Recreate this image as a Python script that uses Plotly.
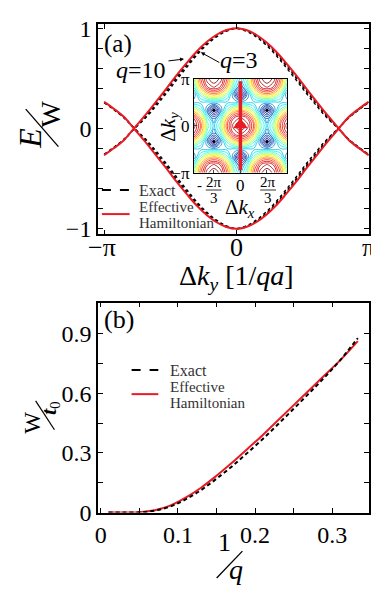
import numpy as np
import plotly.graph_objects as go

W, H = 371, 592
FONT = "Liberation Serif"
RED = "rgb(232,28,36)"


def px(x):
    return x / W


def py(y):
    return 1 - y / H


# ---------------- panel (a): bands along Δk_y (units of π), upper band, half range
DKY_FRAC = [0.0, 0.075, 0.15, 0.225, 0.30, 0.375, 0.45, 0.525, 0.60, 0.675, 0.775, 0.85, 0.925, 1.0]
E_EFFECTIVE = [1.0, 0.982, 0.935, 0.862, 0.768, 0.655, 0.535, 0.405, 0.280, 0.155, 0.0, -0.115, -0.195, -0.265]
E_EXACT_Q10 = [1.0, 0.980, 0.930, 0.855, 0.758, 0.644, 0.522, 0.393, 0.269, 0.146, -0.002, -0.113, -0.193, -0.263]
E_EXACT_Q5 = [0.999, 0.976, 0.924, 0.846, 0.746, 0.629, 0.507, 0.377, 0.255, 0.135, -0.005, -0.110, -0.189, -0.261]
E_EXACT_Q3 = [0.997, 0.970, 0.914, 0.833, 0.730, 0.611, 0.488, 0.358, 0.237, 0.122, -0.007, -0.106, -0.185, -0.257]

# ---------------- panel (b): bandwidth vs 1/q
INV_Q = [0.01, 0.03, 0.05, 0.07, 0.09, 0.11, 0.13, 0.15, 0.17, 0.19, 0.21, 0.23, 0.25, 0.27, 0.29, 0.31, 0.333]
W_EFFECTIVE = [0.0, 0.0, 0.002, 0.012, 0.035, 0.075, 0.125, 0.185, 0.25, 0.32, 0.39, 0.465, 0.54, 0.615, 0.69, 0.765, 0.862]
W_EXACT = [0.0, 0.0, 0.001, 0.010, 0.030, 0.066, 0.113, 0.170, 0.232, 0.300, 0.370, 0.445, 0.522, 0.600, 0.680, 0.765, 0.877]

# ---------------- inset: |E| map, one quadrant (Δk_x = i·π/6, Δk_y = j·π/6)
INSET_KX_FRAC = [0, 1 / 6, 2 / 6, 3 / 6, 4 / 6, 5 / 6, 6 / 6, 7 / 6]
INSET_KY_FRAC = [0, 1 / 6, 2 / 6, 3 / 6, 4 / 6, 5 / 6, 6 / 6]
INSET_Z_QUADRANT = [
    [1.000, 0.933, 0.745, 0.491, 0.333, 0.491, 0.745, 0.933],
    [0.911, 0.847, 0.667, 0.415, 0.244, 0.415, 0.667, 0.847],
    [0.667, 0.616, 0.471, 0.255, 0.000, 0.255, 0.471, 0.616],
    [0.333, 0.333, 0.333, 0.333, 0.333, 0.333, 0.333, 0.333],
    [0.000, 0.255, 0.471, 0.616, 0.667, 0.616, 0.471, 0.255],
    [0.244, 0.415, 0.667, 0.847, 0.911, 0.847, 0.667, 0.415],
    [0.333, 0.491, 0.745, 0.933, 1.000, 0.933, 0.745, 0.491],
]
DIRAC_KX_FRAC = [0, 0, -2 / 3, 2 / 3, -2 / 3, 2 / 3]
DIRAC_KY_FRAC = [2 / 3, -2 / 3, 1 / 3, 1 / 3, -1 / 3, -1 / 3]
CUT_KX_FRAC = [0, 0]
CUT_KY_FRAC = [-0.95, 0.95]


def both_bands(xfrac, e):
    xf = np.array(xfrac) * np.pi
    e = np.array(e)
    x = np.concatenate([-xf[::-1], xf[1:]])
    y = np.concatenate([e[::-1], e[1:]])
    return list(x) + [None] + list(x), list(y) + [None] + list(-y)


fig = go.Figure()

# dashed exact bands
for arr in [E_EXACT_Q3, E_EXACT_Q5, E_EXACT_Q10]:
    xx, yy = both_bands(DKY_FRAC, arr)
    fig.add_trace(go.Scatter(x=xx, y=yy, mode="lines", line=dict(color="black", width=1.4, dash="3px,3px", shape="spline"),
                             showlegend=False, xaxis="x", yaxis="y", hoverinfo="skip"))
xx, yy = both_bands(DKY_FRAC, E_EFFECTIVE)
fig.add_trace(go.Scatter(x=xx, y=yy, mode="lines", line=dict(color=RED, width=2, shape="spline"),
                         showlegend=False, xaxis="x", yaxis="y"))

# panel b
fig.add_trace(go.Scatter(x=INV_Q, y=W_EFFECTIVE, mode="lines", line=dict(color=RED, width=2, shape="spline"),
                         showlegend=False, xaxis="x2", yaxis="y2"))
fig.add_trace(go.Scatter(x=INV_Q, y=W_EXACT, mode="lines", line=dict(color="black", width=2, dash="4px,3px", shape="spline"),
                         showlegend=False, xaxis="x2", yaxis="y2"))

# inset contour
kx = np.array(INSET_KX_FRAC) * np.pi
ky = np.array(INSET_KY_FRAC) * np.pi
zq = np.array(INSET_Z_QUADRANT)
zx = np.hstack([zq[:, :0:-1], zq])
zfull = np.vstack([zx[:0:-1, :], zx])
xg = np.concatenate([-kx[:0:-1], kx])
yg = np.concatenate([-ky[:0:-1], ky])
fig.add_trace(go.Contour(x=xg, y=yg, z=zfull, xaxis="x3", yaxis="y3", colorscale="Jet", zmin=0, zmax=1,
                         contours=dict(start=0.05, end=0.95, size=0.05, coloring="lines"),
                         line=dict(width=0.8, smoothing=1.3), showscale=False, hoverinfo="skip"))
fig.add_trace(go.Scatter(x=np.array(DIRAC_KX_FRAC) * np.pi, y=np.array(DIRAC_KY_FRAC) * np.pi, mode="markers",
                         marker=dict(color="black", size=3), xaxis="x3", yaxis="y3", showlegend=False))
fig.add_trace(go.Scatter(x=np.array(CUT_KX_FRAC) * np.pi, y=np.array(CUT_KY_FRAC) * np.pi, mode="lines",
                         line=dict(color=RED, width=3.5), xaxis="x3", yaxis="y3", showlegend=False))
fig.add_trace(go.Scatter(x=[0], y=[0.02 * np.pi], mode="markers", marker=dict(symbol="triangle-up", size=13, color=RED),
                         xaxis="x3", yaxis="y3", showlegend=False))

axcommon = dict(showgrid=False, zeroline=False, showline=True, linecolor="black", linewidth=1.5, mirror="ticks",
                ticks="inside", ticklen=5, tickcolor="black", tickwidth=1)
minor_common = dict(ticks="inside", ticklen=5, tickcolor="black", tickwidth=1, showgrid=False)

fig.update_layout(
    width=W, height=H, margin=dict(l=0, r=0, t=0, b=0), paper_bgcolor="white", plot_bgcolor="white",
    showlegend=False, font=dict(family=FONT, color="black"),
    xaxis=dict(axcommon, domain=[px(96), px(370)], anchor="y", range=[-3.29, 3.153],
               tickvals=[-np.pi, 0, np.pi], showticklabels=False),
    yaxis=dict(axcommon, domain=[py(234), py(16)], anchor="x", range=[-1.055, 1.038],
               tickvals=[-1, 0, 1], ticktext=["−1", "0", "1"], tickfont=dict(size=24, family=FONT),
               minor=dict(minor_common, tickvals=[-0.8, -0.6, -0.4, -0.2, 0.2, 0.4, 0.6, 0.8])),
    xaxis2=dict(axcommon, domain=[px(96), px(370)], anchor="y2", range=[-0.0035, 0.3475],
                tickvals=[0, 0.1, 0.2, 0.3], ticktext=["0", "0.1", "0.2", "0.3"], tickfont=dict(size=24, family=FONT),
                minor=dict(minor_common, tickvals=[0.05, 0.15, 0.25])),
    yaxis2=dict(axcommon, domain=[py(523), py(305)], anchor="x2", range=[0, 1.055],
                tickvals=[0, 0.3, 0.6, 0.9], ticktext=["0", "0.3", "0.6", "0.9"], tickfont=dict(size=24, family=FONT),
                minor=dict(minor_common, tickvals=[0.15, 0.45, 0.75])),
    xaxis3=dict(showgrid=False, zeroline=False, showline=True, linecolor="black", linewidth=1, mirror=True,
                ticks="inside", ticklen=3, domain=[px(193), px(287)], anchor="y3", range=[-7 * np.pi / 6, 7 * np.pi / 6],
                tickvals=[-2 * np.pi / 3, 0, 2 * np.pi / 3], showticklabels=False),
    yaxis3=dict(showgrid=False, zeroline=False, showline=True, linecolor="black", linewidth=1, mirror=True,
                ticks="inside", ticklen=3, domain=[py(170), py(72.7)], anchor="x3", range=[-np.pi, np.pi],
                tickvals=[-np.pi, 0, np.pi], ticktext=["−π", "0", "π"], tickfont=dict(size=17, family=FONT)),
)

ann = []


def text(x, y, t, size, angle=0, xanchor="center", color="black"):
    ann.append(dict(x=px(x), y=py(y), xref="paper", yref="paper", text=t, showarrow=False, textangle=angle,
                    xanchor=xanchor, yanchor="middle", align="left" if xanchor == "left" else "center",
                    font=dict(size=size, family=FONT, color=color)))


def seg(x0, y0, x1, y1, color="black", width=1.2, dash=None):
    fig.add_shape(type="line", xref="paper", yref="paper", x0=px(x0), y0=py(y0), x1=px(x1), y1=py(y1),
                  line=dict(color=color, width=width, dash=dash))


def arrow(hx, hy, tx, ty):
    ann.append(dict(x=px(hx), y=py(hy), xref="paper", yref="paper", ax=tx - hx, ay=ty - hy, axref="pixel", ayref="pixel",
                    text="", showarrow=True, arrowhead=2, arrowsize=0.8, arrowwidth=1, arrowcolor="black"))


# panel (a) x tick labels
text(100, 248, "−π", 26)
text(236, 248, "0", 26)
text(369, 248, "π", 26)
# panel (a) labels
text(116, 36, "(a)", 25)
text(139, 63, "<i>q</i>=10", 24)
text(239, 53, "<i>q</i>=3", 24)
arrow(183, 52, 166, 54)
arrow(200, 45, 220, 56)
# E/W title
text(27, 134, "<i>E</i>", 32, angle=-90)
text(48, 109, "W", 28, angle=-90)
seg(56, 143, 23, 104, width=1.3)
# x title
text(236, 279, "Δ<i>k<sub>y</sub></i> [1/<i>qa</i>]", 28)
# legend a
seg(100, 188, 128, 188, width=2, dash="dash")
text(135, 188, "Exact", 16, xanchor="left", color="#333")
seg(100, 213, 128, 213, color=RED, width=2)
text(135, 206, "Effective", 15, xanchor="left", color="#333")
text(135, 222, "Hamiltonian", 15, xanchor="left", color="#333")
# inset labels
text(168, 122, "Δ<i>k<sub>y</sub></i>", 21, angle=-90)
text(240, 207, "Δ<i>k<sub>x</sub></i>", 21)
text(240, 183, "0", 17)
text(199, 183, "-", 15)
text(213, 180, "2π", 15)
seg(205, 188, 221, 188, width=0.8)
text(213, 196, "3", 15)
text(268, 180, "2π", 15)
seg(260, 188, 276, 188, width=0.8)
text(268, 196, "3", 15)

# panel (b) labels
text(117, 323, "(b)", 26)
text(29, 430, "W", 23, angle=-90)
text(47, 414, "<b><i>t</i></b><sub>0</sub>", 22, angle=-90)
seg(52, 437, 33, 407, width=1.2)
text(224, 554, "1", 26)
text(236, 582, "<i>q</i>", 28)
seg(216, 591, 242, 563, width=1.3)
# legend b
seg(130, 375, 157, 375, width=2, dash="dash")
text(167, 375, "Exact", 16, xanchor="left", color="#333")
seg(130, 400, 157, 400, color=RED, width=2)
text(167, 393, "Effective", 15, xanchor="left", color="#333")
text(167, 409, "Hamiltonian", 15, xanchor="left", color="#333")

fig.update_layout(annotations=ann)
fig.write_html("out.html")
